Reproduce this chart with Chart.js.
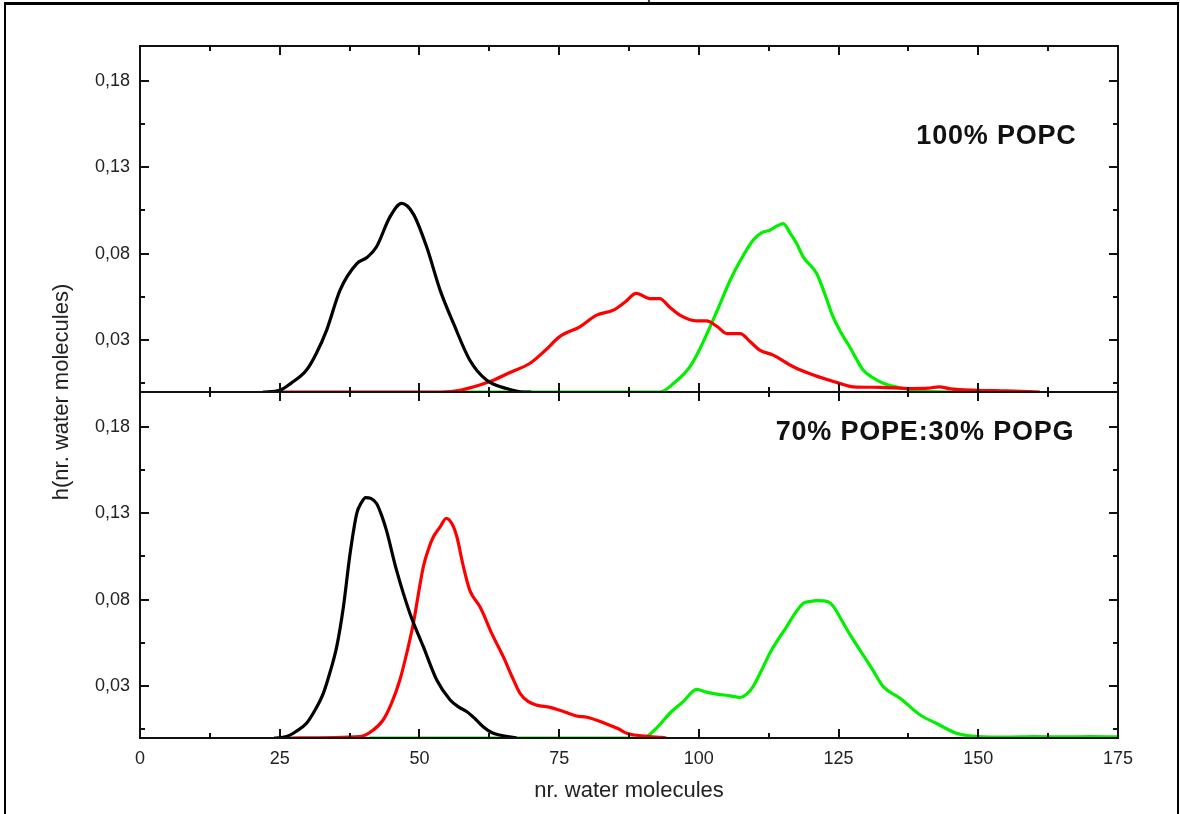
<!DOCTYPE html>
<html>
<head>
<meta charset="utf-8">
<script src="https://cdn.jsdelivr.net/npm/chart.js@4.4.1/dist/chart.umd.min.js"></script>
<style>
  body { margin: 0; background: #fff; }
  #wrap { position: relative; width: 1180px; height: 814px; overflow: hidden; }
  #frame { position: absolute; left: 4px; top: 2px; width: 1171px; height: 900px;
           border-top: 3px solid #000; border-left: 2px solid #000; border-right: 2px solid #000; }
  #cut { position: absolute; left: 647px; top: -15px; font: 17px 'Liberation Sans', Arial, sans-serif; line-height: 1; }
  canvas { position: absolute; left: 0; top: 0; }
</style>
</head>
<body>
<div id="wrap">
  <div id="frame"></div>
  <div id="cut">p</div>
  <canvas id="chart" width="1180" height="814"></canvas>
</div>
<script>
// Water molecule histograms — two stacked panels

const xTickValues = [0, 25, 50, 75, 100, 125, 150, 175];
const xMinorValues = [12.5, 37.5, 62.5, 87.5, 112.5, 137.5, 162.5];
const yTickValues = [0.03, 0.08, 0.13, 0.18];
const yTickLabels = ['0,03', '0,08', '0,13', '0,18'];
const yMinorValues = [0.005, 0.055, 0.105, 0.155];

const xTitle = 'nr. water molecules';
const yTitle = 'h(nr. water molecules)';
const topLabel = '100% POPC';
const botLabel = '70% POPE:30% POPG';

// top panel (100% POPC)
const topBlackX = [22, 25, 27, 29.8, 31.5, 33.4, 35.8, 38.8, 40.6, 42.3, 44.7, 46.8, 48.9, 51.3, 53.7, 56.1, 59, 62, 65.6, 68.6, 70];
const topBlackY = [0, 0.001, 0.005, 0.0127, 0.022, 0.0358, 0.0589, 0.0742, 0.0777, 0.0838, 0.1011, 0.109, 0.103, 0.0838, 0.0589, 0.0396, 0.0185, 0.0069, 0.002, 0, 0];

const topRedX = [25, 53.7, 57.3, 62.6, 66, 69.8, 72.5, 75.1, 78.7, 81.7, 84.7, 86.8, 88.8, 91.2, 93, 94.8, 96.6, 99.6, 101.4, 103.2, 105, 107.4, 109.2, 110.9, 113.3, 116.9, 120.5, 125.2, 127.6, 132.4, 138, 141, 143, 145, 150, 155, 161];
const topRedY = [0, 0, 0.001, 0.006, 0.011, 0.0166, 0.024, 0.032, 0.0377, 0.0444, 0.0473, 0.052, 0.057, 0.054, 0.054, 0.049, 0.0444, 0.0411, 0.0411, 0.038, 0.0338, 0.0338, 0.029, 0.0242, 0.0213, 0.0146, 0.0098, 0.005, 0.003, 0.0027, 0.002, 0.0022, 0.003, 0.0018, 0.001, 0.0006, 0];

const topGreenX = [55, 88, 93, 95.5, 98.4, 100.2, 102, 103.8, 105.6, 107.6, 109.7, 111.2, 112.7, 114, 115.1, 116.3, 117.5, 118.7, 121.1, 122.5, 124, 125.5, 127, 129.4, 131, 133, 136.6, 140, 145];
const topGreenY = [0, 0, 0, 0.005, 0.0146, 0.025, 0.0377, 0.051, 0.0646, 0.077, 0.0877, 0.092, 0.0935, 0.096, 0.0973, 0.092, 0.0858, 0.078, 0.0684, 0.057, 0.0435, 0.034, 0.026, 0.0127, 0.0085, 0.005, 0.002, 0.0005, 0];

// bottom panel (70% POPE:30% POPG)
const botBlackX = [24, 26.2, 28, 29.8, 31.3, 32.8, 34, 35.2, 36.4, 37.6, 38.8, 39.6, 40.4, 41.3, 42.3, 43.2, 44.1, 45.9, 48.3, 50.7, 53.1, 55.5, 57, 58.5, 60, 61.4, 63, 64.4, 67.4];
const botBlackY = [0, 0.0008, 0.004, 0.0085, 0.016, 0.0258, 0.038, 0.0528, 0.0759, 0.1068, 0.13, 0.136, 0.139, 0.1385, 0.1357, 0.129, 0.12, 0.097, 0.072, 0.0528, 0.0335, 0.022, 0.018, 0.0152, 0.011, 0.0065, 0.003, 0.0017, 0];

const botRedX = [27, 39.4, 41.5, 43.5, 45, 46.5, 47.8, 48.9, 49.8, 50.7, 51.6, 52.5, 53.7, 54.8, 55.8, 56.7, 57.8, 59, 60.8, 61.4, 63, 65, 66.5, 68, 69.5, 71, 73.4, 76, 78.1, 80, 83.5, 85.5, 87.1, 90.7, 94.2];
const botRedY = [0, 0.0008, 0.004, 0.0104, 0.02, 0.0335, 0.05, 0.066, 0.083, 0.099, 0.109, 0.1163, 0.122, 0.127, 0.124, 0.1163, 0.1, 0.0855, 0.076, 0.072, 0.06, 0.047, 0.036, 0.0258, 0.021, 0.019, 0.0177, 0.015, 0.0127, 0.012, 0.0081, 0.0055, 0.0027, 0.001, 0];

const botGreenX = [41, 90, 92.5, 94.8, 97.2, 99.6, 101.4, 103.2, 105.3, 107.4, 108.6, 109.7, 111.2, 112.7, 114.2, 115.7, 117.2, 118.7, 120, 121.1, 123.1, 124.2, 125.2, 127, 128.8, 131, 133, 136, 139.6, 142.5, 146.1, 150, 155, 160, 165, 170, 175];
const botGreenY = [0, 0, 0.006, 0.0143, 0.021, 0.0281, 0.0265, 0.0254, 0.0245, 0.0235, 0.0255, 0.0297, 0.039, 0.049, 0.057, 0.0643, 0.072, 0.0779, 0.079, 0.0794, 0.0788, 0.0755, 0.0701, 0.06, 0.0509, 0.04, 0.0297, 0.023, 0.0133, 0.0085, 0.0027, 0.0008, 0.0005, 0.0008, 0.0006, 0.0008, 0.0006];

const FONT = "'Liberation Sans', Arial, sans-serif";
const BLACK = '#000000';
const RED = '#ff0000';
const GREEN = '#00f000';

function pts(xs, ys) {
    return xs.map((x, i) => ({ x: x, y: ys[i] }));
}

function series(xs, ys, color, axis) {
    return {
        data: pts(xs, ys),
        borderColor: color,
        borderWidth: 3.2,
        pointRadius: 0,
        cubicInterpolationMode: 'monotone',
        fill: false,
        yAxisID: axis
    };
}

function yScale() {
    return {
        type: 'linear',
        position: 'left',
        stack: 'panels',
        stackWeight: 1,
        min: 0,
        max: 0.2,
        afterBuildTicks: s => { s.ticks = yTickValues.map(v => ({ value: v })); },
        afterFit: s => { s.width = 140; },
        ticks: {
            callback: (v, i) => yTickLabels[i],
            font: { family: FONT, size: 18 },
            color: '#222',
            padding: 10
        },
        grid: { display: false, drawTicks: false },
        border: { display: false }
    };
}

// frame, inward ticks, panel labels, y title
const framePlugin = {
    id: 'framePlugin',
    afterDatasetsDraw(chart) {
        const { ctx, scales } = chart;
        const x = scales.x;
        ctx.save();
        ctx.strokeStyle = '#111';
        ctx.lineWidth = 2;
        [scales.yTop, scales.yBot].forEach(y => {
            const l = x.left, r = x.right, t = y.top, b = y.bottom;
            ctx.strokeRect(l, t, r - l, b - t);
            ctx.beginPath();
            const xt = (vals, len) => vals.forEach(v => {
                const px = Math.round(x.getPixelForValue(v));
                ctx.moveTo(px, b); ctx.lineTo(px, b - len);
                ctx.moveTo(px, t); ctx.lineTo(px, t + len);
            });
            const yt = (vals, len) => vals.forEach(v => {
                const py = Math.round(y.getPixelForValue(v));
                ctx.moveTo(l, py); ctx.lineTo(l + len, py);
                ctx.moveTo(r, py); ctx.lineTo(r - len, py);
            });
            xt(xTickValues, 9); xt(xMinorValues, 5);
            yt(yTickValues, 9); yt(yMinorValues, 5);
            ctx.stroke();
        });

        ctx.fillStyle = '#111';
        ctx.font = 'bold 27px ' + FONT;
        ctx.letterSpacing = '0.8px';
        ctx.textAlign = 'right';
        ctx.textBaseline = 'middle';
        ctx.fillText(topLabel, x.getPixelForValue(167.6), scales.yTop.getPixelForValue(0.1477));
        ctx.fillText(botLabel, x.getPixelForValue(167.2), scales.yBot.getPixelForValue(0.1765));

        ctx.letterSpacing = '0px';
        ctx.font = '22px ' + FONT;
        ctx.fillStyle = '#222';
        ctx.textAlign = 'center';
        ctx.translate(62, (scales.yTop.top + scales.yBot.bottom) / 2);
        ctx.rotate(-Math.PI / 2);
        ctx.fillText(yTitle, 0, 0);
        ctx.restore();
    }
};

new Chart(document.getElementById('chart'), {
    type: 'line',
    data: {
        datasets: [
            series(topBlackX, topBlackY, BLACK, 'yTop'),
            series(topRedX, topRedY, RED, 'yTop'),
            series(topGreenX, topGreenY, GREEN, 'yTop'),
            series(botBlackX, botBlackY, BLACK, 'yBot'),
            series(botRedX, botRedY, RED, 'yBot'),
            series(botGreenX, botGreenY, GREEN, 'yBot')
        ]
    },
    options: {
        responsive: false,
        animation: false,
        layout: { padding: { left: 0, top: 46, right: 62, bottom: 0 } },
        plugins: { legend: { display: false }, tooltip: { enabled: false } },
        scales: {
            x: {
                type: 'linear',
                position: 'bottom',
                min: 0,
                max: 175,
                afterBuildTicks: s => { s.ticks = xTickValues.map(v => ({ value: v })); },
                afterFit: s => { s.height = 76; },
                ticks: {
                    font: { family: FONT, size: 18 },
                    color: '#222',
                    padding: 10,
                    maxRotation: 0,
                    autoSkip: false
                },
                grid: { display: false, drawTicks: false },
                border: { display: false },
                title: {
                    display: true,
                    text: xTitle,
                    font: { family: FONT, size: 22 },
                    color: '#222',
                    padding: { top: 0, bottom: 10 }
                }
            },
            // stacked axes are laid out bottom-first
            yBot: yScale(),
            yTop: yScale()
        }
    },
    plugins: [framePlugin]
});
</script>
</body>
</html>
